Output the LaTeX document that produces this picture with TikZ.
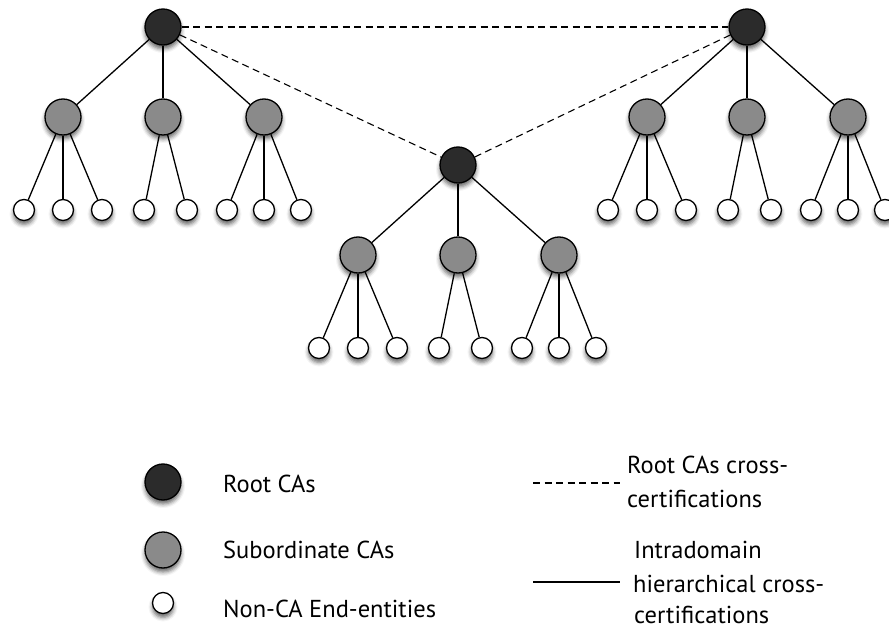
\documentclass[tikz,border=0pt]{standalone}
\usepackage{fontspec}
\setmainfont{PT Sans}
\usetikzlibrary{shadows.blur}
\definecolor{rootgray}{HTML}{2B2B2B}
\definecolor{subgray}{HTML}{8A8A8A}
\begin{document}
\begin{tikzpicture}[x=1pt,y=-1pt,
  ca/.style={circle, draw=black, line width=1.3pt, inner sep=0pt,
    blur shadow={shadow xshift=0pt, shadow yshift=-4pt,
                 shadow blur radius=4pt, shadow opacity=60}},
  rootca/.style={ca, fill=rootgray, minimum size=36pt},
  subca/.style={ca, fill=subgray, minimum size=36pt},
  leaf/.style={ca, fill=white, minimum size=21pt},
  link/.style={line width=1.3pt},
  cross/.style={line width=1.1pt, dash pattern=on 7pt off 4.5pt},
  lbl/.style={font=\fontsize{24.5}{32}\selectfont, anchor=base west, inner sep=0pt}]

\useasboundingbox (0,0) rectangle (889,628);

% three PKI domains: root, three subordinate CAs, eight end entities
\foreach \t/\cx/\cy in {L/163/27, M/458/165, R/747/27}{
  \node[rootca] (\t) at (\cx,\cy) {};
  \foreach \s/\dx in {1/-100, 2/0, 3/101}
    \node[subca] (\t\s) at (\cx+\dx,\cy+90) {};
  \foreach \l/\dx in {a/-139, b/-100, c/-61, d/-19, e/24, f/64, g/101, h/138}
    \node[leaf] (\t\l) at (\cx+\dx,\cy+183) {};
  \foreach \s in {1,2,3}
    \draw[link] (\t) -- (\t\s);
  \foreach \s/\l in {1/a, 1/b, 1/c, 2/d, 2/e, 3/f, 3/g, 3/h}
    \draw[link] (\t\s) -- (\t\l);
}

% cross-certification between the root CAs
\draw[cross] (L) -- (R);
\draw[cross] (L) -- (M);
\draw[cross] (R) -- (M);

% legend
\node[rootca] (kroot) at (163,482) {};
\node[subca]  (ksub)  at (163,550) {};
\node[leaf]   (kleaf) at (163,603) {};
\node[lbl] (troot) at (223,492) {Root CAs};
\node[lbl] (tsub)  at (223,558) {Subordinate CAs};
\node[lbl] (tleaf) at (223,617) {Non-CA End-entities};

\coordinate (kc1) at (533,483);
\coordinate (kc2) at (620,483);
\draw[cross] (kc1) -- (kc2);
\node[lbl] (tc1) at (627,473) {Root CAs cross-};
\node[lbl] (tc2) at (627,507) {certifications};

\coordinate (kh1) at (533,582);
\coordinate (kh2) at (620,582);
\draw[link] (kh1) -- (kh2);
\node[lbl] (th1) at (634,558) {Intradomain};
\node[lbl] (th2) at (633,592) {hierarchical cross-};
\node[lbl] (th3) at (634,623) {certifications};
\end{tikzpicture}
\end{document}
